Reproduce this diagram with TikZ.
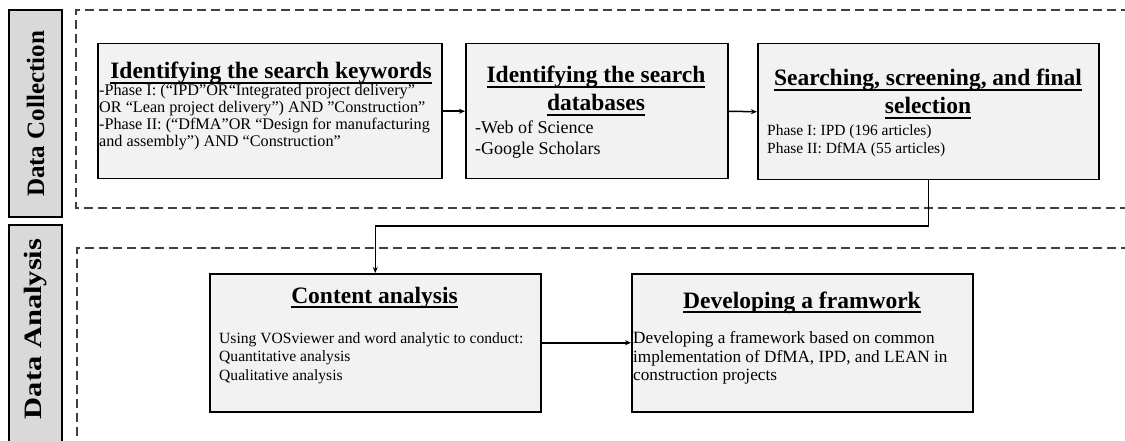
\documentclass[tikz,border=0pt]{standalone}
\usepackage{fontspec}
\setmainfont{Liberation Serif}
\usetikzlibrary{arrows.meta}
\definecolor{boxfill}{HTML}{F2F2F2}
\definecolor{labfill}{HTML}{D9D9D9}
\definecolor{dashc}{HTML}{404040}
\newcommand\ulx[1]{\setbox0\hbox{#1}\rlap{\rule[-4.75pt]{\wd0}{1.5pt}}\box0}
\newcommand\fs[2]{\fontsize{#1}{#2}\selectfont}
\newcommand\ctwo[2]{\vtop{\halign{\hfil##\hfil\cr#1\cr#2\cr}}}
\begin{document}
\begin{tikzpicture}[x=1pt,y=-1pt,
  stage/.style={draw=black, line width=1.5pt, fill=boxfill, anchor=north west, inner sep=0pt},
  label/.style={draw=black, line width=1.5pt, fill=labfill},
  labtext/.style={rotate=90, font=\bfseries\fs{25}{30}, inner sep=0pt},
  head/.style={font=\bfseries\fs{23.5}{28}, anchor=base, inner sep=0pt},
  body/.style={anchor=base west, inner sep=0pt},
  frame/.style={draw=dashc, line width=1.3pt, dash pattern=on 9pt off 5pt},
  conn/.style={draw=black, line width=1.5pt, -{Stealth[length=6pt,width=5pt]}}]
\useasboundingbox (0,0) rectangle (1125,441);
\clip (0,0) rectangle (1125,441);
\fill[white] (0,0) rectangle (1125,441);

% section labels
\draw[label] (9,10) rectangle (62,217);
\node[labtext] (lab1) at (35.5,114) {Data Collection};
\draw[label] (9,225) rectangle (62,470);
\node[labtext, xscale=1.22] (lab2) at (35.5,329) {Data Analysis};

% dashed frames
\draw[frame] (1130,10) -- (76,10) -- (76,208) -- (1130,208);
\draw[frame] (1130,248) -- (77,248) -- (77,460);

% stage boxes
\node[stage, minimum width=344pt, minimum height=135pt] (b1) at (97,43) {};
\node[stage, minimum width=262pt, minimum height=135pt] (b2) at (465,43) {};
\node[stage, minimum width=341pt, minimum height=136pt] (b3) at (757,43) {};
\node[stage, minimum width=331pt, minimum height=138pt] (b4) at (209,273) {};
\node[stage, minimum width=341pt, minimum height=138pt] (b5) at (631,273) {};

% box 1
\node[head] (h1) at (271,79) {\ulx{Identifying the search keywords}};
\node[body, font=\fs{16.2}{17}] (t1) at (99,96) {\vtop{%
\hbox{-Phase I: (“IPD”OR“Integrated project delivery”}
\hbox{OR “Lean project delivery”) AND ”Construction”}
\hbox{-Phase II: (“DfMA”OR “Design for manufacturing}
\hbox{and assembly”) AND “Construction”}}};

% box 2
\node[head] (h2) at (596,83) {\ctwo{\ulx{Identifying the search}}{\ulx{databases}}};
\node[body, font=\fs{18}{21}] (t2) at (475,134) {\vtop{%
\hbox{-Web of Science}
\hbox{-Google Scholars}}};

% box 3
\node[head] (h3) at (928,86) {\ctwo{\ulx{Searching, screening, and final}}{\ulx{selection}}};
\node[body, font=\fs{15.5}{18}] (t3) at (767,136) {\vtop{%
\hbox{Phase I: IPD (196 articles)}
\hbox{Phase II: DfMA (55 articles)}}};

% box 4
\node[head] (h4) at (374.5,303) {\ulx{Content analysis}};
\node[body, font=\fs{15.6}{18.5}] (t4) at (219,343) {\vtop{%
\hbox{Using VOSviewer and word analytic to conduct:}
\hbox{Quantitative analysis}
\hbox{Qualitative analysis}}};

% box 5
\node[head] (h5) at (802,308) {\ulx{Developing a framwork}};
\node[body, font=\fs{17.2}{18.6}] (t5) at (633,343.5) {\vtop{%
\hbox{Developing a framework based on common}
\hbox{implementation of DfMA, IPD, and LEAN in}
\hbox{construction projects}}};

% connectors
\coordinate (bend) at (650,226);
\draw[conn] (b1.east) -- (b2.west);
\draw[conn] (b2.east) -- (b3.west);
\draw[conn] (b3.south) |- (bend) -| (b4.north);
\draw[conn] (b4.east) -- (b5.west);
\end{tikzpicture}
\end{document}
